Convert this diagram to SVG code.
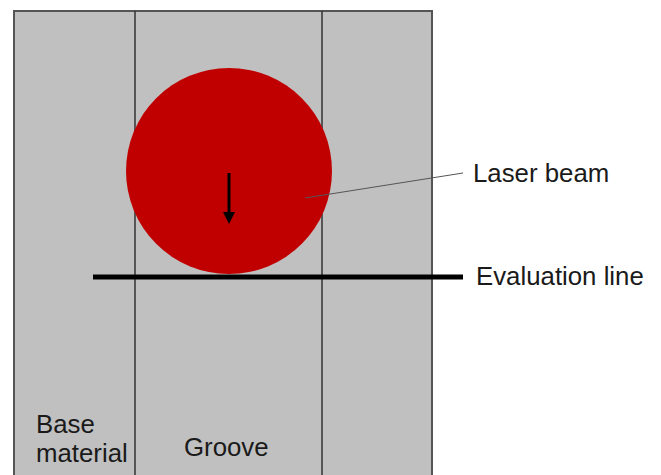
<svg xmlns="http://www.w3.org/2000/svg" width="661" height="475" viewBox="0 0 661 475">
<style>
text{font-family:"Liberation Sans",Arial,sans-serif;font-size:25.8px;fill:#1a1a1a}
.div{stroke:#333;stroke-width:1.5}
</style>
<defs>
<marker id="ah" markerWidth="4" markerHeight="4" refX="1" refY="2" orient="auto" markerUnits="strokeWidth"><path d="M0,0 L4,2 L0,4 z" fill="#000"/></marker>
</defs>
<rect width="661" height="475" fill="#fff"/>
<g id="plate">
<rect x="14" y="11" width="418" height="470" fill="#c0c0c0" stroke="#555" stroke-width="2"/>
<line class="div" x1="135" y1="11" x2="135" y2="475"/>
<line class="div" x1="322" y1="11" x2="322" y2="475"/>
</g>
<g id="laser-beam">
<circle cx="229" cy="171" r="103" fill="#c00000"/>
</g>
<g id="connectors">
<line x1="229" y1="173" x2="229" y2="215" stroke="#000" stroke-width="3" marker-end="url(#ah)"/>
<line x1="305" y1="198" x2="463" y2="173" stroke="#555" stroke-width="1"/>
<line x1="93" y1="277" x2="463" y2="277" stroke="#000" stroke-width="5"/>
</g>
<g id="labels">
<text x="473" y="182">Laser beam</text>
<text x="476" y="285">Evaluation line</text>
<text x="36" y="433">Base</text>
<text x="36" y="462">material</text>
<text x="184" y="456">Groove</text>
</g>
</svg>
